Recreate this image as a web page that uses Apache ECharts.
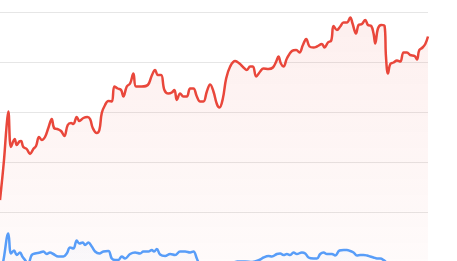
<!DOCTYPE html>
<html>
<head>
<meta charset="utf-8">
<script src="https://cdn.jsdelivr.net/npm/echarts@6/dist/echarts.min.js"></script>
<style>html,body{margin:0;padding:0;background:#fff;overflow:hidden;width:457px;height:261px;}#c{width:457px;height:362px;}</style>
</head>
<body>
<div id="c"></div>
<script>
// x positions (time units) and values
const redX = [0,4,6.5,8.3,11,14.7,16.7,19.3,21,23.3,26.7,30,33.3,36,39,41.7,45,48.3,51.7,54,57.3,61,64.3,67.7,71,73.3,76.7,79.3,83.3,87.3,90,92.7,96.7,99.3,101.7,105,108.3,111.7,114.3,117.7,121,123.3,126.7,130,133.3,136,141.7,147.7,151.7,155,157.7,161,164.3,168.3,171.7,174.3,176.7,180,183.3,186.7,190,193.3,196.7,200,203.3,206.7,210,213.3,216.7,219.3,222.7,226,230,235,239.3,243.3,246.7,250,252.7,256,260,263.3,268.3,272.7,276,278.3,280.7,283.3,286.7,291.7,296,299.3,302.7,306,309.3,313.3,316.7,321.7,324.3,327.7,331,333.3,336.7,340,343.3,346.7,350,352.3,355.7,358.3,361.7,365,367.7,371,373.3,375,377.7,381,384.3,385.7,387.7,390,393.3,396.7,400,403.3,406.7,410,414.3,416.7,419,422.3,425,427.7];
const redV = [324,404,470,501,430,446,434,441,442,430,426,416,426,432,450,444,450,468,486,468,466,462,452,474,478,476,490,482,488,490,486,468,458,464,498,514,522,521,551,547,544,531,551,557,577,551,551,554,573,584,574,574,544,537,539,544,524,537,531,531,547,547,531,521,521,541,555,541,516,509,527,567,591,602,597,589,584,591,591,571,581,587,586,589,601,611,597,591,607,622,624,619,634,646,631,629,631,636,629,639,643,672,664,671,679,679,689,677,657,674,676,684,674,672,657,637,667,674,672,611,577,596,599,603,601,619,619,614,612,605,624,629,636,651];
const blueX = [0,3.3,8.3,11,14,16.7,20,22.3,25,28,31.7,35,40,43.3,46.7,50,53.3,58.3,63.3,66.7,70,73.3,76.7,79.3,82.7,85,88.3,91.7,95,99.3,103.3,108.3,111.7,115,118.3,121.7,125,130,135,140,143.3,148.3,151.7,154,156.7,160,165,170,175,180,185,190,193.3,196.7,200,205,212,220,228,237,245,252,260,263.3,268.3,271.7,276.7,280,283.3,286.7,290,293.3,296.7,301.7,305,308.3,313.3,316.7,320,323.3,326.7,331.7,335,339.3,343.3,346.7,350,353.3,356.7,360,363.3,366.7,370,373.3,376.7,380,383.3,388,395,402,410,418,427.7];
const blueV = [174,202,257,217,223,214,219,211,204,196,214,217,219,221,216,219,216,211,211,217,229,227,243,237,239,234,239,231,221,217,221,222,207,204,204,211,207,216,219,217,221,221,224,221,226,215,212,216,214,221,221,219,221,207,192,184,188,184,192,201,201,200,205,209,212,211,216,217,214,216,214,219,216,219,217,209,207,207,216,219,216,216,213,223,224,224,222,219,213,214,214,213,211,209,207,207,204,196,190,192,188,192,194];
const yTicks = {min: 0, max: 700, interval: 100};

const zip = (xs, vs) => xs.map((x, i) => [x, vs[i]]);
const chart = echarts.init(document.getElementById('c'), null, {renderer: 'canvas'});
const grad = (r, g, b, a0, a1) => new echarts.graphic.LinearGradient(0, 0, 0, 1, [
  {offset: 0, color: `rgba(${r},${g},${b},${a0})`},
  {offset: 1, color: `rgba(${r},${g},${b},${a1})`}
]);
chart.setOption({
  animation: false,
  grid: {left: 0, right: 29, top: 12, bottom: 0, containLabel: false},
  xAxis: {type: 'value', min: 0, max: 427.7, show: false},
  yAxis: {
    type: 'value', min: yTicks.min, max: yTicks.max, interval: yTicks.interval,
    axisLabel: {show: false}, axisLine: {show: false}, axisTick: {show: false},
    splitLine: {show: true, lineStyle: {color: '#e6e6e6', width: 1}}
  },
  series: [
    {
      type: 'line', data: zip(redX, redV), smooth: 0.4, symbol: 'none',
      lineStyle: {color: '#e9473b', width: 2.5},
      itemStyle: {color: '#e9473b'},
      areaStyle: {color: grad(234, 74, 61, 0.12, 0.0)}
    },
    {
      type: 'line', data: zip(blueX, blueV), smooth: 0.4, symbol: 'none',
      lineStyle: {color: '#589df8', width: 2.5},
      itemStyle: {color: '#589df8'},
      areaStyle: {color: grad(88, 157, 248, 0.05, 0.0)}
    }
  ]
});
</script>
</body>
</html>
